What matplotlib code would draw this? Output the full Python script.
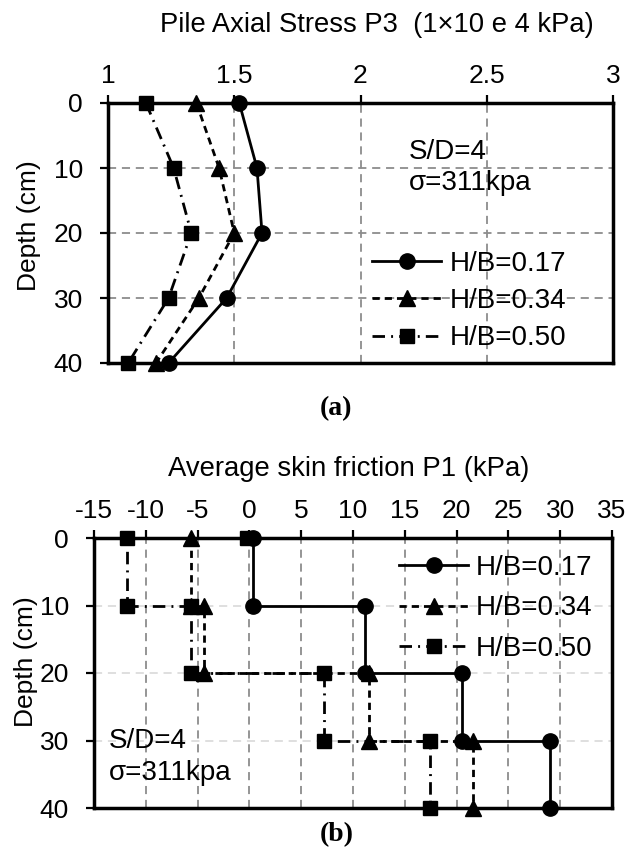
import matplotlib
matplotlib.use("Agg")
import matplotlib.pyplot as plt

plt.rcParams['font.family'] = ['Liberation Sans', 'DejaVu Sans']
plt.rcParams['axes.unicode_minus'] = False

# (a) pile axial stress P3, x10^4 kPa
depth_a = [0, 10, 20, 30, 40]
stress_017 = [1.52, 1.59, 1.61, 1.47, 1.24]
stress_034 = [1.35, 1.44, 1.50, 1.36, 1.19]
stress_050 = [1.15, 1.26, 1.33, 1.24, 1.08]

# (b) average skin friction P1 (kPa), step profile vertices
depth_017 = [0, 10, 10, 20, 20, 30, 30, 40]
fric_017 = [0.3, 0.3, 11.2, 11.2, 20.5, 20.5, 29.0, 29.0]
depth_034 = [0, 10, 10, 20, 20, 30, 30, 40]
fric_034 = [-5.6, -5.6, -4.4, -4.4, 11.5, 11.5, 21.6, 21.6]
depth_050 = [0, 0, 10, 10, 20, 20, 30, 30, 40]
fric_050 = [-0.2, -11.8, -11.8, -5.6, -5.6, 7.2, 7.2, 17.4, 17.4]

labels = ['H/B=0.17', 'H/B=0.34', 'H/B=0.50']
xticks_a = [1, 1.5, 2, 2.5, 3]
xticklabels_a = ['1', '1.5', '2', '2.5', '3']
xticks_b = list(range(-15, 40, 5))
yticks = [0, 10, 20, 30, 40]

W, H = 638, 856
fig = plt.figure(figsize=(W / 100, H / 100), dpi=100)


def px_axes(l, r, t, b):
    return fig.add_axes([l / W, (H - b) / H, (r - l) / W, (b - t) / H])


def ftext(x, y, s, **kw):
    # place text by pixel position (from top-left)
    return fig.text(x / W, 1 - y / H, s, **kw)


styles = [
    dict(color='black', lw=2, ls='-', marker='o', ms=11),
    dict(color='black', lw=2, ls=(0, (2.6, 1.8)), marker='^', ms=11),
    dict(color='black', lw=2, ls=(0, (4.5, 2.2, 0.7, 2.2)), marker='s', ms=10),
]
FS = 19
FS_TXT = 20


def style_axes(ax, xticks, vgrid_col, hgrid_col):
    ax.set_ylim(40, 0)
    ax.set_yticks(yticks)
    ax.xaxis.tick_top()
    ax.tick_params(axis='x', direction='out', length=6, width=1.6,
                   labelsize=FS, pad=5)
    ax.tick_params(axis='y', direction='out', length=6, width=1.6,
                   labelsize=FS, pad=12)
    for s in ax.spines.values():
        s.set_linewidth(2.5)
        s.set_zorder(3)
    for x in xticks[1:-1]:
        ax.axvline(x, color=vgrid_col, lw=1.3, ls=(0, (4.5, 3.2)), zorder=1)
    for y in yticks[1:-1]:
        ax.axhline(y, color=hgrid_col, lw=1.3, ls=(0, (4.5, 3.2)), zorder=1)


# ---- (a)
ax1 = px_axes(108, 613, 103, 363)
for xs, st, lab in zip([stress_017, stress_034, stress_050], styles, labels):
    ax1.plot(xs, depth_a, label=lab, clip_on=False, zorder=5, **st)
ax1.set_xlim(1, 3)
ax1.set_xticks(xticks_a)
ax1.set_xticklabels(xticklabels_a)
style_axes(ax1, xticks_a, '#8c8c8c', '#8c8c8c')
ftext(409, 159, 'S/D=4', fontsize=FS_TXT, va='baseline', ha='left')
ftext(409, 190, 'σ=311kpa', fontsize=FS_TXT, va='baseline', ha='left')
ax1.legend(loc='upper left', bbox_to_anchor=((372 - 108) / 505, (363 - 251) / 260),
           frameon=False, fontsize=FS_TXT, handlelength=2.5, handletextpad=0.3,
           labelspacing=0.4, borderpad=0, borderaxespad=0)
ftext(377, 32, 'Pile Axial Stress P3  (1×10 e 4 kPa)',
      ha='center', va='baseline', fontsize=19.7)
ftext(29, 226, 'Depth (cm)', rotation=90, ha='center', va='center', fontsize=FS)
ftext(336, 409, '(a)', ha='center', va='center', fontsize=20,
      fontweight='bold', family='Liberation Serif')

# ---- (b)
ax2 = px_axes(94, 612, 538, 808)
for xs, ds, st, lab in zip([fric_017, fric_034, fric_050],
                           [depth_017, depth_034, depth_050], styles, labels):
    ax2.plot(xs, ds, label=lab, clip_on=False, zorder=5, **st)
ax2.set_xlim(-15, 35)
ax2.set_xticks(xticks_b)
style_axes(ax2, xticks_b, '#8c8c8c', '#dcdcdc')
ftext(109, 748, 'S/D=4', fontsize=FS_TXT, va='baseline', ha='left')
ftext(109, 780, 'σ=311kpa', fontsize=FS_TXT, va='baseline', ha='left')
ax2.legend(loc='upper left', bbox_to_anchor=((399 - 94) / 518, (808 - 555) / 270),
           frameon=False, fontsize=FS_TXT, handlelength=2.5, handletextpad=0.25,
           labelspacing=0.52, borderpad=0, borderaxespad=0)
ftext(349, 476, 'Average skin friction P1 (kPa)',
      ha='center', va='baseline', fontsize=19.8)
ftext(26, 662, 'Depth (cm)', rotation=90, ha='center', va='center', fontsize=FS)
ftext(337, 835, '(b)', ha='center', va='center', fontsize=20,
      fontweight='bold', family='Liberation Serif')

fig.savefig('out.png', dpi=100)
